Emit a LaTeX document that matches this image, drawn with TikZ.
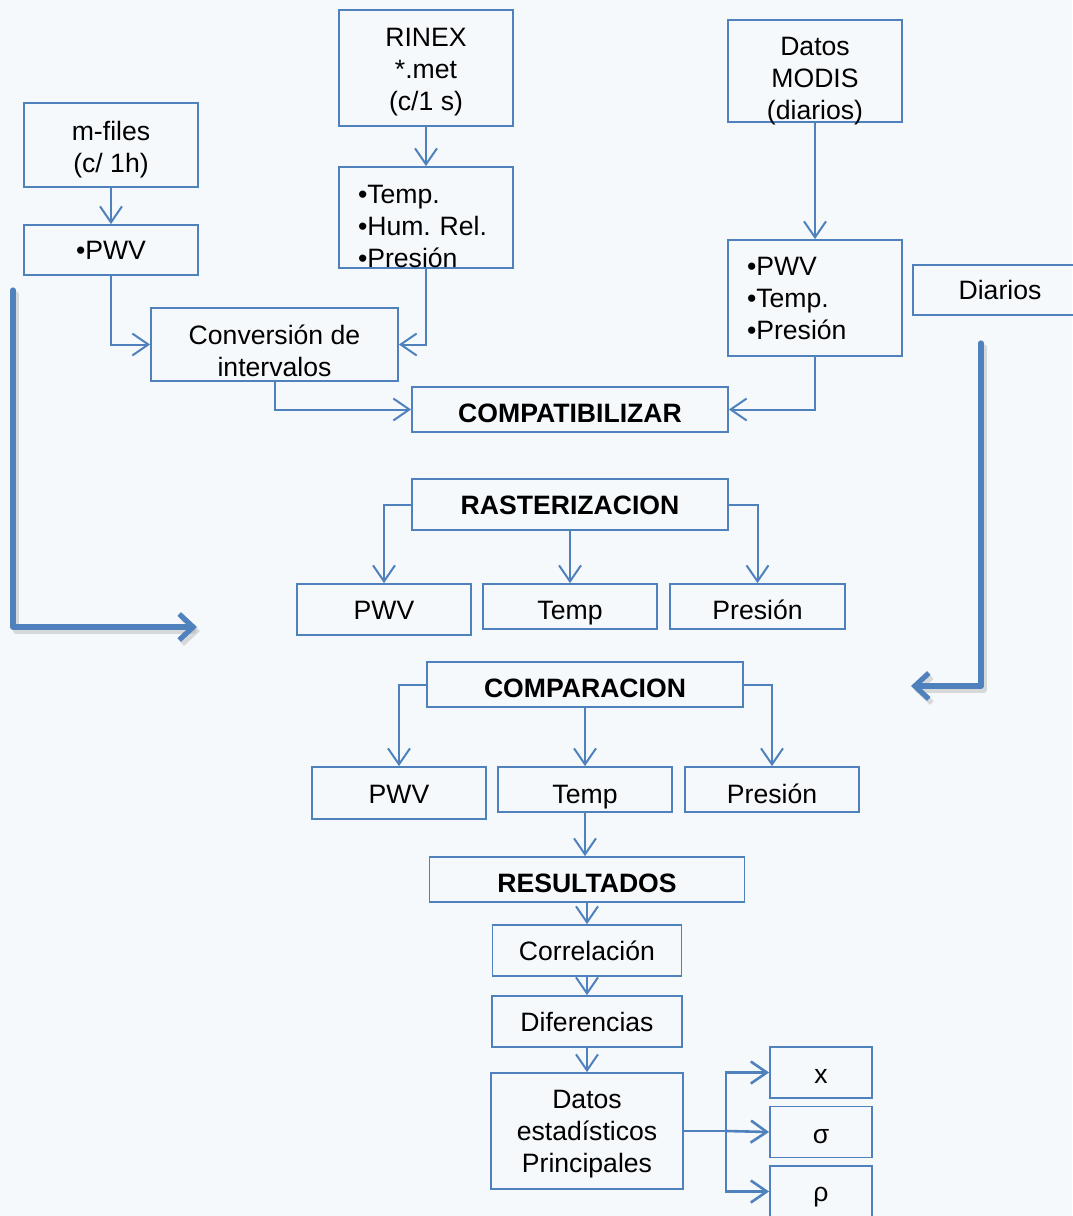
\documentclass[tikz,border=0pt]{standalone}
\usepackage{fontspec}
\setmainfont{Liberation Sans}
\usepackage{tikz}
\usetikzlibrary{arrows.meta}
\definecolor{azul}{RGB}{79,129,189}
\definecolor{fondo}{RGB}{246,249,252}

\begin{document}
\begin{tikzpicture}[x=0.5pt,y=-0.5pt,
   font=\fontsize{13.3}{16}\selectfont\frenchspacing,
   caja/.style={draw=azul,line width=0.9pt,align=center,inner sep=0pt},
   alto/.style={text height=#1,text depth=0pt},
   lista/.style={caja,align=left,inner xsep=9.5pt,text width=68pt,text height=9.5pt},
   titulo/.style={caja,font=\fontsize{13.3}{16}\selectfont\bfseries},
   flecha/.style={color=azul,line width=1pt,-{Straight Barb[length=8pt,width=11pt]}},
   gruesa/.style={color=azul,line width=2.6pt,line cap=round,line join=round,-{Straight Barb[length=7pt,width=13pt]}},
   sombra/.style={gruesa,color=black!30,opacity=0.45}]
   \useasboundingbox (0,0) rectangle (1072,1216);
   \fill[fondo] (0,0) rectangle (1072,1216);

   % entradas
   \node[caja,alto=27pt,minimum width=87pt,minimum height=42pt] (mfiles) at (111,145) {m-files\\(c/ 1h)};
   \node[caja,alto=9.5pt,minimum width=87pt,minimum height=25pt] (pwvA) at (111,250) {•PWV};
   \node[caja,alto=42.5pt,minimum width=87pt,minimum height=58pt] (rinex) at (426,68) {RINEX\\*.met\\(c/1 s)};
   \node[lista,text depth=23.5pt,minimum width=87pt,minimum height=50.5pt] (rinexvar) at (426,217.5) {•Temp.\\•Hum. Rel.\\•Presión};
   \node[caja,alto=48.5pt,minimum width=87pt,minimum height=51pt] (modis) at (815,71) {Datos\\MODIS\\(diarios)};
   \node[lista,text depth=32pt,minimum width=87pt,minimum height=58pt] (modisvar) at (815,298) {•PWV\\•Temp.\\•Presión};
   \node[caja,alto=9.5pt,minimum width=87pt,minimum height=25pt] (diarios) at (1000,290) {Diarios};
   \node[caja,alto=32pt,minimum width=123.5pt,minimum height=36.5pt] (conv) at (274.5,344.5) {Conversión de\\intervalos};
   \node[titulo,alto=13pt,minimum width=158pt,minimum height=22.5pt] (compat) at (570,409.5) {COMPATIBILIZAR};

   % rasterizacion
   \node[titulo,alto=10pt,minimum width=158pt,minimum height=25.5pt] (raster) at (570,504.5) {RASTERIZACION};
   \node[caja,alto=10pt,minimum width=87pt,minimum height=25.5pt] (pwvB) at (384,609.5) {PWV};
   \node[caja,alto=13pt,minimum width=87pt,minimum height=22.5pt] (tempB) at (570,606.5) {Temp};
   \node[caja,alto=13pt,minimum width=87.5pt,minimum height=22.5pt] (presB) at (757.5,606.5) {Presión};

   % comparacion
   \node[titulo,alto=13pt,minimum width=158pt,minimum height=22.5pt] (compar) at (585,684.5) {COMPARACION};
   \node[caja,alto=10.5pt,minimum width=87pt,minimum height=26pt] (pwvC) at (399,793) {PWV};
   \node[caja,alto=14pt,minimum width=87pt,minimum height=22.5pt] (tempC) at (585,789.5) {Temp};
   \node[caja,alto=14pt,minimum width=87pt,minimum height=22.5pt] (presC) at (772,789.5) {Presión};

   % resultados
   \node[titulo,alto=13pt,minimum width=157.5pt,minimum height=22.5pt] (result) at (587,879.5) {RESULTADOS};
   \node[caja,alto=10pt,minimum width=94.5pt,minimum height=25.5pt] (correl) at (587,950.5) {Correlación};
   \node[caja,alto=10pt,minimum width=95pt,minimum height=25.5pt] (difer) at (587,1021.5) {Diferencias};
   \node[caja,alto=41.5pt,minimum width=96pt,minimum height=58pt] (stats) at (587,1131) {Datos\\estadísticos\\Principales};
   \node[caja,alto=11pt,minimum width=51pt,minimum height=25.5pt] (media) at (821,1072.5) {x};
   \node[caja,alto=11pt,minimum width=51pt,minimum height=25.5pt] (sigma) at (821,1132) {σ};
   \node[caja,alto=10pt,minimum width=51pt,minimum height=25.5pt] (rho) at (821,1191.5) {ρ};
   \coordinate (rama) at (726,1131);

   \path[flecha]
      (mfiles) edge (pwvA)
      (rinex) edge (rinexvar)
      (modis) edge (modisvar)
      (raster) edge (tempB)
      (compar) edge (tempC)
      (correl) edge (difer)
      (difer) edge (stats);
   \draw[flecha] (pwvA.south) |- (conv.west);
   \draw[flecha] (rinexvar.south) |- (conv.east);
   \draw[flecha] (modisvar.south) |- (compat.east);
   \draw[flecha] (conv.south) |- (compat.west);
   \draw[flecha] (raster.west) -| (pwvB.north);
   \draw[flecha] (raster.east) -| (presB.north);
   \draw[flecha] (compar.west) -| (pwvC.north);
   \draw[flecha] (compar.east) -| (presC.north);
   \draw[flecha] (tempC.south) -- (tempC.south |- result.north);
   \draw[flecha] (result.south -| correl) -- (correl.north);
   \draw[color=azul,line width=1.3pt] (stats.east) -- (rama);
   \draw[flecha,line width=1.3pt] (rama) |- (media.west);
   \draw[flecha,line width=1.3pt] (rama) -- (sigma.west);
   \draw[flecha,line width=1.3pt] (rama) |- (rho.west);

   % flechas gruesas
   \coordinate (izqA) at (13,290);
   \coordinate (izqB) at (197,627);
   \coordinate (derA) at (981,343);
   \coordinate (derB) at (911,686);
   \draw[sombra] ([shift={(3,4)}]izqA) |- ([shift={(3,4)}]izqB);
   \draw[gruesa] (izqA) |- (izqB);
   \draw[sombra] ([shift={(3,4)}]derA) |- ([shift={(3,4)}]derB);
   \draw[gruesa] (derA) |- (derB);
\end{tikzpicture}
\end{document}
